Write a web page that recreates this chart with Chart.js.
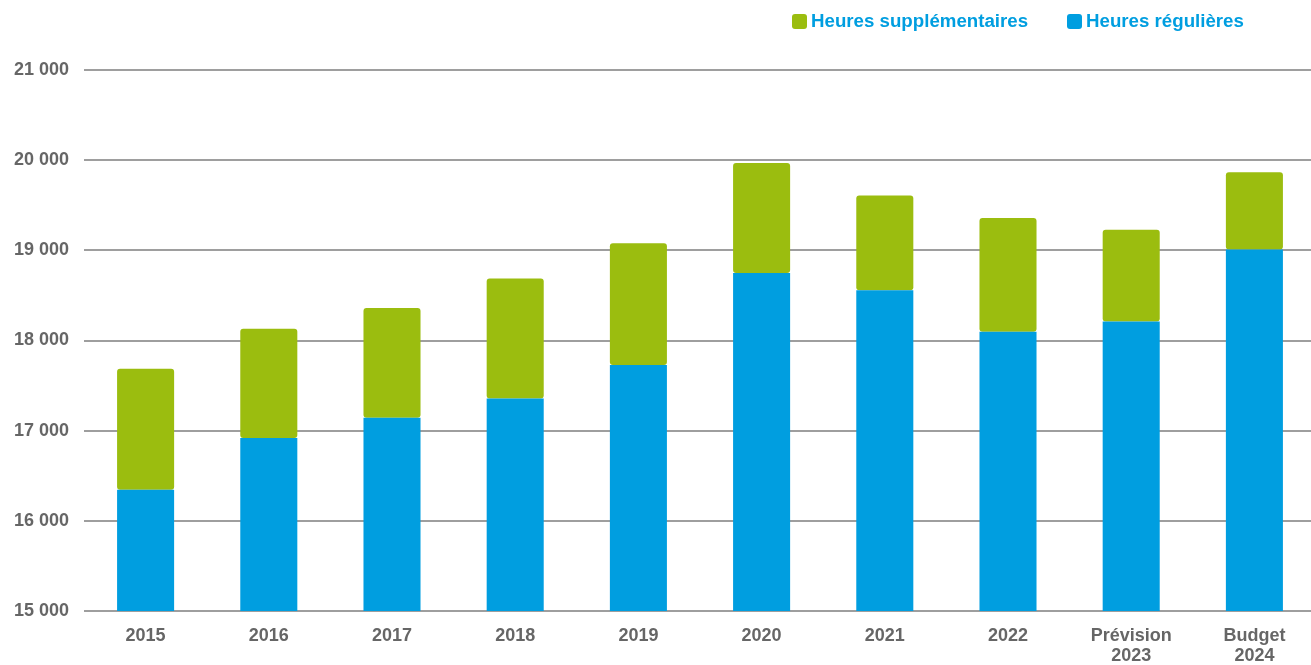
<!DOCTYPE html>
<html lang="fr">
<head>
<meta charset="utf-8">
<title>Heures régulières et supplémentaires</title>
<script src="https://cdn.jsdelivr.net/npm/chart.js@4/dist/chart.umd.min.js"></script>
<style>
  html, body { margin: 0; padding: 0; background: #ffffff; overflow: hidden; }
  /* la zone de tracé déborde légèrement à droite, le quadrillage va jusqu'au bord */
  #wrap { position: relative; width: 1316px; height: 665px; }
</style>
</head>
<body>
<div id="wrap"><canvas id="chart"></canvas></div>
<script>
// Années (libellés sur deux lignes pour la prévision et le budget)
const categories = ['2015', '2016', '2017', '2018', '2019', '2020', '2021', '2022',
  ['Prévision', '2023'], ['Budget', '2024']];

// Heures régulières (base de la pile)
const heuresRegulieres = [16346, 16919, 17142, 17358, 17729, 18750, 18558, 18096, 18210, 19010];

// Heures supplémentaires (empilées au-dessus)
const heuresSupplementaires = [1341, 1212, 1219, 1330, 1349, 1219, 1050, 1262, 1019, 855];

// Graduations de l'axe vertical
const yTicks = [15000, 16000, 17000, 18000, 19000, 20000, 21000];

const BLUE = '#009ee0';
const GREEN = '#9bbd0f';
const FONT = '"Liberation Sans", Arial, sans-serif';

// Format « 21 000 » avec espace comme séparateur de milliers
const fmt = v => String(v).replace(/\B(?=(\d{3})+(?!\d))/g, ' ');

// Légende dessinée en haut à droite : carré arrondi + libellé bleu gras
const topLegend = {
  id: 'topLegend',
  afterDraw(chart) {
    const ctx = chart.ctx;
    const items = [
      { label: chart.data.datasets[1].label, color: chart.data.datasets[1].backgroundColor, x: 792 },
      { label: chart.data.datasets[0].label, color: chart.data.datasets[0].backgroundColor, x: 1067 }
    ];
    ctx.save();
    ctx.font = 'bold 18.7px ' + FONT;
    ctx.textBaseline = 'middle';
    ctx.textAlign = 'left';
    items.forEach(it => {
      ctx.fillStyle = it.color;
      ctx.beginPath();
      ctx.roundRect(it.x, 14, 15, 15, 3);
      ctx.fill();
      ctx.fillStyle = BLUE;
      ctx.fillText(it.label, it.x + 19, 22);
    });
    ctx.restore();
  }
};

new Chart(document.getElementById('chart'), {
  type: 'bar',
  data: {
    labels: categories,
    datasets: [
      {
        label: 'Heures régulières',
        data: heuresRegulieres,
        backgroundColor: BLUE,
        borderRadius: 3,
        borderSkipped: 'start'
      },
      {
        label: 'Heures supplémentaires',
        data: heuresSupplementaires,
        backgroundColor: GREEN,
        borderRadius: 3,
        borderSkipped: false
      }
    ]
  },
  plugins: [topLegend],
  options: {
    responsive: true,
    maintainAspectRatio: false,
    animation: false,
    devicePixelRatio: 1,
    layout: { padding: { top: 70, right: 0, bottom: 0, left: 0 } },
    datasets: {
      bar: { barPercentage: 0.463, categoryPercentage: 1.0 }
    },
    plugins: {
      legend: { display: false },
      tooltip: { enabled: false },
      title: { display: false }
    },
    scales: {
      x: {
        stacked: true,
        grid: { display: false, drawTicks: false },
        border: { display: false },
        ticks: {
          color: '#666666',
          padding: 15,
          maxRotation: 0,
          autoSkip: false,
          font: { family: FONT, size: 18, weight: 'bold', lineHeight: 1.1 }
        },
        afterFit(scale) { scale.height = 54; }
      },
      y: {
        stacked: true,
        min: 15000,
        max: 21000,
        afterBuildTicks(scale) { scale.ticks = yTicks.map(v => ({ value: v })); },
        grid: { color: '#9e9e9e', lineWidth: 2, drawTicks: false },
        border: { display: false },
        ticks: {
          color: '#666666',
          padding: 15,
          font: { family: FONT, size: 18, weight: 'bold' },
          callback: v => fmt(v)
        },
        afterFit(scale) { scale.width = 84; }
      }
    }
  }
});
</script>
</body>
</html>
